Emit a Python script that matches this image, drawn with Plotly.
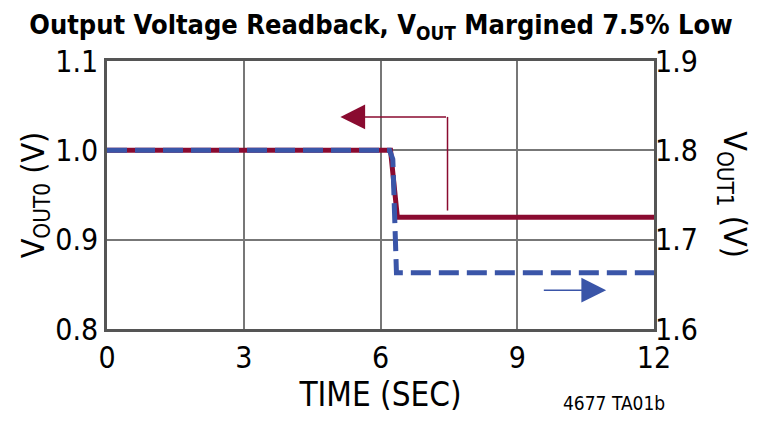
import plotly.graph_objects as go

# data
time_0 = [0, 1.5, 3.0, 4.5, 6.0, 6.22, 6.37, 7.0, 7.9, 8.0, 8.3, 9.0, 9.9, 10.0, 10.4, 11.0, 11.6, 12]
vout0 = [1.0, 1.0, 1.0, 1.0, 1.0, 1.0, 0.925, 0.925, 0.925, 0.924, 0.925, 0.925, 0.925, 0.9242, 0.925, 0.9246, 0.9242, 0.925]

time_1 = [0, 1.5, 3.0, 4.5, 6.0, 6.2, 6.27, 6.35, 8.0, 9.0, 9.5, 10.0, 11.0, 12]
vout1 = [1.8, 1.8, 1.8, 1.8, 1.8, 1.8, 1.79, 1.663, 1.663, 1.663, 1.664, 1.663, 1.663, 1.663]

x_ticks = [0, 3, 6, 9, 12]
y0_ticks = [0.8, 0.9, 1.0, 1.1]
y1_ticks = [1.6, 1.7, 1.8, 1.9]

# arrow pointers: [x_from, x_to, y_level, y_start]
red_arrow = [7.47, 5.12, 1.0374, 0.9326]
blue_arrow = [9.55, 10.95, 0.8435]

RED = "#8a0b30"
BLUE = "#3a55a8"
FONT = "DejaVu Sans Condensed"

fig = go.Figure()
fig.add_trace(go.Scatter(x=time_0, y=vout0, mode="lines",
                         line=dict(color=RED, width=5), yaxis="y"))
fig.add_trace(go.Scatter(x=time_1, y=vout1, mode="lines",
                         line=dict(color=BLUE, width=5, dash="20px,8px"), yaxis="y2"))

# red pointer to left axis
fig.add_shape(type="line", xref="x", yref="y",
              x0=red_arrow[0], x1=red_arrow[0], y0=red_arrow[3], y1=red_arrow[2],
              line=dict(color=RED, width=1.5))
fig.add_annotation(x=red_arrow[1], y=red_arrow[2], ax=red_arrow[0], ay=red_arrow[2],
                   xref="x", yref="y", axref="x", ayref="y", text="",
                   showarrow=True, arrowhead=2, arrowsize=3.3, arrowwidth=1.5, arrowcolor=RED)
# blue pointer to right axis
fig.add_annotation(x=blue_arrow[1], y=blue_arrow[2], ax=blue_arrow[0], ay=blue_arrow[2],
                   xref="x", yref="y", axref="x", ayref="y", text="",
                   showarrow=True, arrowhead=2, arrowsize=3.3, arrowwidth=1.5, arrowcolor=BLUE)

fig.add_annotation(x=1.144, y=0.5, xref="paper", yref="paper", showarrow=False,
                   xanchor="center", yanchor="middle",
                   text="V<sub>OUT1</sub> (V)", textangle=90,
                   font=dict(family=FONT, size=32, color="black"))
fig.add_annotation(x=0.927, y=-0.276, xref="paper", yref="paper", showarrow=False,
                   xanchor="center", yanchor="middle",
                   text="4677 TA01b", font=dict(family=FONT, size=19, color="black"))

# page body adds 8px offset, so the figure is 8px smaller and margins shifted
fig.update_layout(
    width=752, height=413,
    margin=dict(l=99, r=106, t=53, b=92),
    paper_bgcolor="white", plot_bgcolor="white",
    showlegend=False,
    title=dict(text="<b>Output Voltage Readback, V<sub>OUT</sub> Margined 7.5% Low</b>",
               x=0.496, xanchor="center", y=0.982, yanchor="top",
               font=dict(family=FONT, size=27, color="black")),
    font=dict(family=FONT, size=30, color="black"),
    xaxis=dict(range=[0, 12], tickvals=x_ticks, showgrid=True, gridcolor="#777", gridwidth=1.5,
               showline=True, linecolor="#555", linewidth=2.5, mirror=True, ticks="",
               zeroline=False, automargin=False,
               title=dict(text="TIME (SEC)", font=dict(size=33), standoff=4)),
    yaxis=dict(range=[0.8, 1.1], tickvals=y0_ticks, tickformat=".1f", showgrid=True,
               gridcolor="#777", gridwidth=1.5, showline=True, linecolor="#555", linewidth=2.5,
               mirror=True, ticks="", zeroline=False, automargin=False,
               title=dict(text="V<sub>OUT0</sub> (V)", font=dict(size=32), standoff=2)),
    yaxis2=dict(range=[1.6, 1.9], tickvals=y1_ticks, tickformat=".1f", overlaying="y",
                side="right", showgrid=False, ticks="", zeroline=False, automargin=False),
)

fig.write_html("out.html")
